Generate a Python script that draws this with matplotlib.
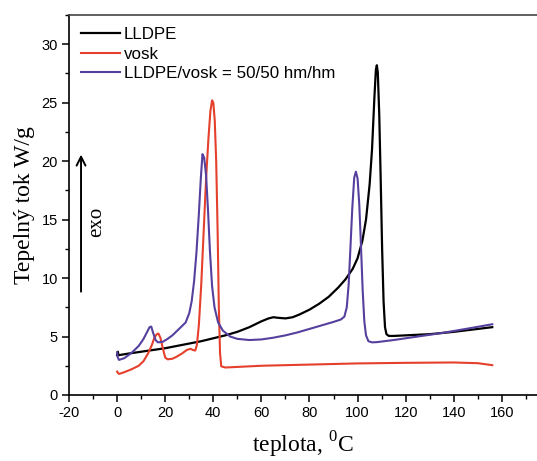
import matplotlib.pyplot as plt
from matplotlib.ticker import MultipleLocator

plt.rcParams['axes.unicode_minus'] = False
plt.rcParams['mathtext.fontset'] = 'custom'
plt.rcParams['mathtext.rm'] = 'Liberation Serif'

# LLDPE (black)
lldpe_t = [0, 0.3, 0.6, 2, 5, 10, 15, 20, 25, 30, 35, 40, 45, 50, 55, 60, 63, 65, 67, 70, 73,
           76, 80, 84, 88, 92, 95, 98, 100, 102, 103.5, 105, 106, 107, 107.6, 108, 108.4, 109,
           109.6, 110.2, 110.8, 111.4, 112, 113, 115, 120, 130, 140, 150, 156]
lldpe_q = [3.4, 3.7, 3.4, 3.45, 3.55, 3.7, 3.85, 4.0, 4.2, 4.4, 4.6, 4.85, 5.1, 5.4, 5.8, 6.3, 6.55, 6.65, 6.6, 6.55, 6.65,
           6.9, 7.3, 7.8, 8.4, 9.2, 9.9, 10.8, 11.7, 13.2, 15.0, 18.0, 21.0, 25.5, 27.8, 28.2, 27.6, 24.0,
           18.5, 12.5, 8.0, 5.8, 5.2, 5.05, 5.05, 5.1, 5.2, 5.4, 5.65, 5.8]

# vosk (red)
vosk_t = [0, 0.3, 0.8, 3, 6, 9, 11, 13, 14.5, 15.5, 16.5, 17.2, 18, 19, 20, 21, 23, 25, 27, 29, 30.5,
          31.5, 32.5, 33.2, 34, 35, 36, 37, 38, 38.8, 39.5, 40, 40.6, 41.2, 41.8, 42.3, 42.8, 43.3, 45,
          50, 60, 80, 100, 120, 140, 150, 156]
vosk_q = [2.0, 1.9, 1.8, 1.95, 2.2, 2.5, 2.9, 3.6, 4.3, 4.9, 5.2, 5.25, 4.9, 4.0, 3.2, 3.05, 3.1, 3.3, 3.55, 3.85, 3.95,
          3.85, 3.8, 4.3, 6.0, 9.5, 14.0, 18.5, 22.0, 24.3, 25.2, 25.0, 23.5, 20.0, 14.0, 7.5, 3.6, 2.45, 2.35,
          2.4, 2.5, 2.6, 2.7, 2.75, 2.78, 2.72, 2.55]

# LLDPE/vosk = 50/50 (purple)
blend_t = [0, 0.3, 0.8, 3, 6, 9, 11, 12.5, 13.5, 14.2, 15, 16, 17, 19, 21, 23, 25, 27, 28.5, 30, 31,
           32, 33, 34, 34.8, 35.5, 36.2, 37, 37.8, 38.6, 39.5, 40.5, 42, 44, 47, 50, 55, 60, 65, 70, 75,
           80, 85, 90, 93, 94.5, 95.5, 96.3, 97, 97.8, 98.6, 99.3, 100, 100.7, 101.4, 102.1, 102.8, 103.5,
           104.5, 106, 108, 115, 125, 135, 145, 156]
blend_q = [3.65, 3.2, 3.0, 3.15, 3.6, 4.2, 4.8, 5.4, 5.8, 5.85, 5.3, 4.7, 4.5, 4.55, 4.8, 5.1, 5.5, 5.9, 6.2, 7.0, 8.0,
           9.7, 12.2, 15.5, 18.5, 20.6, 20.3, 18.8, 15.8, 12.3, 9.3, 7.5, 6.2, 5.5, 5.0, 4.8, 4.7, 4.75, 4.9, 5.1, 5.35,
           5.65, 5.95, 6.25, 6.45, 6.7, 7.5, 9.5, 12.5, 16.0, 18.6, 19.1, 18.5, 16.3, 12.8, 9.0, 6.3, 5.1,
           4.6, 4.5, 4.52, 4.7, 5.0, 5.3, 5.65, 6.05]

x_ticks = [-20, 0, 20, 40, 60, 80, 100, 120, 140, 160]
y_ticks = [0, 5, 10, 15, 20, 25, 30]

fig = plt.figure(figsize=(5.37, 4.61), dpi=100)
ax = fig.add_axes([0.1285, 0.1432, 0.8715, 0.8243])

ax.plot(lldpe_t, lldpe_q, color='black', lw=1.6, label='LLDPE')
ax.plot(vosk_t, vosk_q, color='#e5402c', lw=1.5, label='vosk')
ax.plot(blend_t, blend_q, color='#55409e', lw=1.5, label='LLDPE/vosk = 50/50 hm/hm')

ax.set_xlim(-20, 174.6)
ax.set_ylim(0, 32.5)
ax.set_xticks(x_ticks)
ax.set_yticks(y_ticks)
ax.xaxis.set_minor_locator(MultipleLocator(10))
ax.yaxis.set_minor_locator(MultipleLocator(2.5))
ax.tick_params(which='major', direction='out', length=5, width=1.1,
               labelsize=10.5, pad=3)
ax.tick_params(which='minor', direction='out', length=3, width=1.0)
for lab in ax.get_xticklabels() + ax.get_yticklabels():
    lab.set_family('Liberation Sans')

ax.spines['right'].set_visible(False)
for s in ['left', 'bottom', 'top']:
    ax.spines[s].set_linewidth(1.2)
ax.spines['top'].set_color('#444444')

ax.set_xlabel('teplota, $^{0}$C', family='Liberation Serif', fontsize=17, labelpad=7)
ax.set_ylabel('Tepelný tok W/g', family='Liberation Serif', fontsize=17, labelpad=5)

ax.annotate('', xy=(-15, 20.8), xytext=(-15, 8.6),
            arrowprops=dict(arrowstyle='->', color='black', lw=1.4, mutation_scale=16))
ax.text(-8.5, 14.8, 'exo', family='Liberation Serif', fontsize=15, rotation=90,
        ha='center', va='center')

leg = ax.legend(loc='upper left', bbox_to_anchor=(0.0, 1.0), frameon=False,
                prop={'family': 'Liberation Sans', 'size': 12.2},
                handlelength=2.3, handletextpad=0.25, labelspacing=0.28,
                borderpad=0.3, borderaxespad=0.4)

fig.savefig('out.png', dpi=100)
